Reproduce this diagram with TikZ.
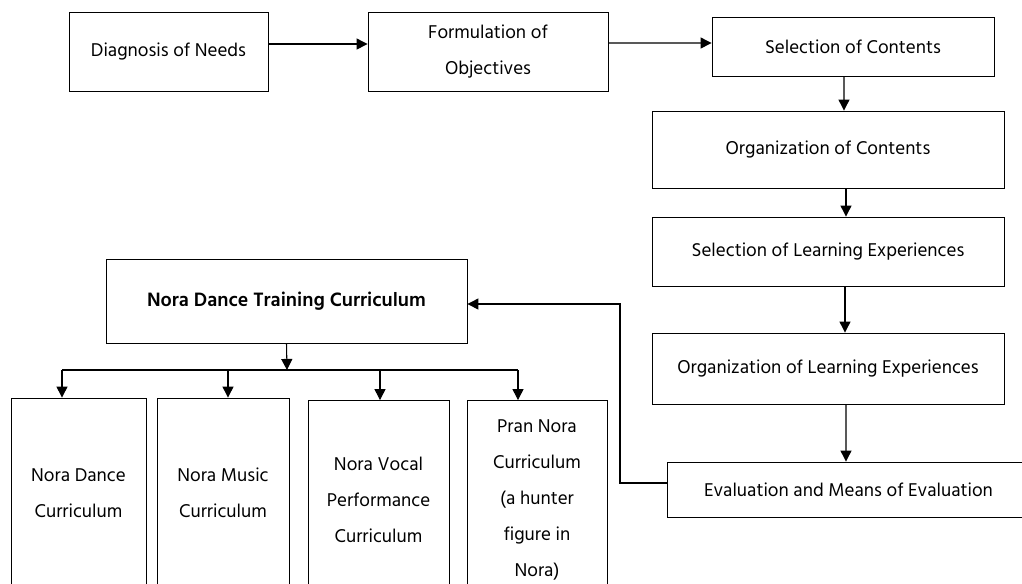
\documentclass[tikz,border=0pt]{standalone}
\usepackage{fontspec}
\setmainfont{Hind Madurai}
\usetikzlibrary{arrows.meta}

\tikzset{
  box/.style={draw, line width=0.5pt, align=center, inner sep=0pt, font=\fontsize{10.8}{20.5}\selectfont},
  arr/.style={-{Triangle[length=6.3pt,width=6.3pt]}, line width=0.6pt},
}

\begin{document}
\begin{tikzpicture}[x=0.02cm, y=-0.02cm]
  \useasboundingbox (0,0) rectangle (1022,583);
  \node[box, minimum width=3.98cm, minimum height=1.58cm] (need) at (168.5,51.5) {Diagnosis of Needs};
  \node[box, minimum width=4.8cm, minimum height=1.58cm] (obj) at (488,51.5) {Formulation of\\Objectives};
  \node[box, minimum width=5.64cm, minimum height=1.18cm] (cont) at (853,46.5) {Selection of Contents};
  \node[box, minimum width=7.04cm, minimum height=1.54cm] (orgc) at (828,149.5) {Organization of Contents};
  \node[box, minimum width=7.04cm, minimum height=1.38cm] (sle) at (828,251.5) {Selection of Learning Experiences};
  \node[box, minimum width=7.04cm, minimum height=1.42cm] (ole) at (828,368.5) {Organization of Learning Experiences};
  \node[box, minimum width=7.26cm, minimum height=1.1cm] (eval) at (848.5,489.5) {Evaluation and Means of Evaluation};
  \node[box, minimum width=7.22cm, minimum height=1.68cm, font=\fontsize{11.3}{20}\selectfont\bfseries] (train) at (286.5,301) {Nora Dance Training Curriculum};
  \node[box, minimum width=2.7cm, minimum height=3.8cm] (b1) at (78.5,493) {Nora Dance\\Curriculum};
  \node[box, minimum width=2.64cm, minimum height=3.8cm] (b2) at (223,493) {Nora Music\\Curriculum};
  \node[box, minimum width=2.82cm, minimum height=3.98cm] (b3) at (378.5,500) {Nora Vocal\\Performance\\Curriculum};
  \node[box, minimum width=2.8cm, minimum height=3.98cm] (b4) at (537,500) {Pran Nora\\Curriculum\\(a hunter\\figure in\\Nora)};

  \draw[arr] ([yshift=0.15cm]need.east) -- ([yshift=0.15cm]obj.west);
  \draw[arr] ([yshift=0.17cm]obj.east) -- ([yshift=0.07cm]cont.west);
  \draw[arr] ([xshift=-0.18cm]cont.south) -- ([xshift=0.32cm]orgc.north);
  \draw[arr] ([xshift=0.36cm]orgc.south) -- ([xshift=0.36cm]sle.north);
  \draw[arr] ([xshift=0.34cm]sle.south) -- ([xshift=0.34cm]ole.north);
  \draw[arr] ([xshift=0.36cm]ole.south) -- ([xshift=-0.05cm]eval.north);

  \coordinate (turn) at (620,304);
  \draw[arr] ([yshift=0.13cm]eval.west) -| (turn) -- (turn -| train.east);

  \coordinate (split) at (287,370);
  \coordinate (d1) at (62,370);
  \coordinate (d2) at (228,370);
  \coordinate (d3) at (380,370);
  \coordinate (d4) at (518,370);
  \draw[arr] (train.south) -- (split);
  \draw[line width=0.6pt] (d1) -- (d4);
  \foreach \i in {1,...,4}
    \draw[arr] (d\i) -- (d\i |- b\i.north);
\end{tikzpicture}
\end{document}
